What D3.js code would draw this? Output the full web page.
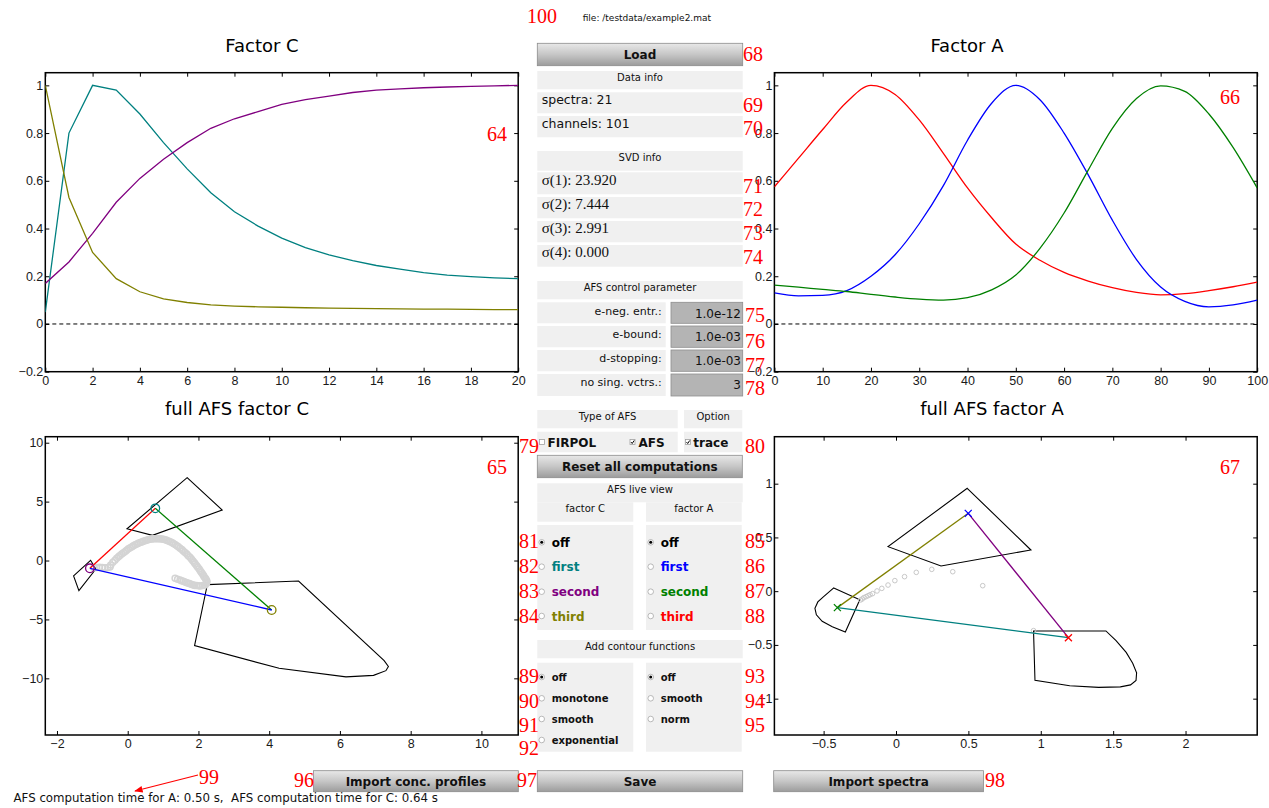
<!DOCTYPE html>
<html>
<head>
<meta charset="utf-8">
<script src="https://cdn.jsdelivr.net/npm/d3@7"></script>
<style>
  body { margin: 0; background: #fff; }
  svg { display: block; }
  .tick text { font-family: "Liberation Sans", Arial, sans-serif; font-size: 12.5px; fill: #1a1a1a; }
  .tick line { stroke: #000; }
  .title { font-family: "DejaVu Sans", sans-serif; font-size: 18px; fill: #000; }
  .ann { font-family: "Liberation Serif", serif; font-size: 20px; fill: #ff0000; }
  .hdr { font-family: "DejaVu Sans", sans-serif; font-size: 10px; fill: #111; text-anchor: middle; }
  .info { font-family: "DejaVu Sans", sans-serif; font-size: 12.5px; fill: #111; }
  .sig { font-family: "Liberation Serif", serif; font-size: 15px; fill: #111; }
  .ctl { font-family: "DejaVu Sans", sans-serif; font-size: 11px; fill: #111; text-anchor: end; }
  .val { font-family: "DejaVu Sans", sans-serif; font-size: 12px; fill: #111; text-anchor: end; }
  .btn { font-family: "DejaVu Sans", sans-serif; font-weight: bold; font-size: 12px; fill: #111; text-anchor: middle; }
  .opt { font-family: "DejaVu Sans", sans-serif; font-weight: bold; font-size: 12px; }
  .opt2 { font-family: "DejaVu Sans", sans-serif; font-weight: bold; font-size: 10px; fill: #111; }
  .small { font-family: "DejaVu Sans", sans-serif; font-size: 9px; fill: #111; }
  .status { font-family: "DejaVu Sans", sans-serif; font-size: 11.8px; fill: #111; }
</style>
</head>
<body>
<svg id="gui" width="1269" height="808"></svg>
<script>
// ---- Factor C (21 spectra) ----
const cSteps = [0,1,2,3,4,5,6,7,8,9,10,11,12,13,14,15,16,17,18,19,20];
const cTeal   = [0.05,0.80,1.0,0.98,0.88,0.76,0.65,0.55,0.47,0.41,0.36,0.32,0.29,0.265,0.245,0.23,0.215,0.205,0.198,0.193,0.19];
const cPurple = [0.17,0.26,0.38,0.51,0.61,0.69,0.76,0.82,0.86,0.89,0.92,0.94,0.955,0.97,0.98,0.985,0.99,0.993,0.996,0.998,1.0];
const cOlive  = [1.0,0.53,0.30,0.19,0.135,0.105,0.09,0.08,0.075,0.072,0.07,0.068,0.066,0.065,0.064,0.063,0.062,0.062,0.061,0.06,0.06];
const cXTicks = [0,2,4,6,8,10,12,14,16,18,20];
const cYTicks = [-0.2,0,0.2,0.4,0.6,0.8,1];

// ---- Factor A (101 channels, read every 5) ----
const aChannels = [0,5,10,15,20,25,30,35,40,45,50,55,60,65,70,75,80,85,90,95,100];
const aRed   = [0.575,0.695,0.815,0.93,1.0,0.962,0.855,0.715,0.57,0.445,0.335,0.267,0.216,0.18,0.152,0.132,0.122,0.127,0.14,0.156,0.175];
const aBlue  = [0.13,0.118,0.12,0.14,0.20,0.29,0.42,0.58,0.77,0.925,1.0,0.94,0.80,0.625,0.435,0.27,0.155,0.095,0.072,0.08,0.10];
const aGreen = [0.163,0.154,0.145,0.136,0.124,0.113,0.104,0.10,0.11,0.143,0.205,0.317,0.465,0.645,0.82,0.945,0.998,0.975,0.88,0.74,0.57];
const aXTicks = [0,10,20,30,40,50,60,70,80,90,100];
const aYTicks = [-0.2,0,0.2,0.4,0.6,0.8,1];

// ---- full AFS factor C ----
const afsCPolyTop   = [[1.68,7.03],[2.67,4.29],[0.70,2.14],[-0.02,2.70]];
const afsCPolyLeft  = [[-1.05,0.02],[-1.53,-1.3],[-1.38,-2.55],[-0.9,-0.72]];
const afsCPolyBig   = [[2.25,-2.05],[4.83,-1.74],[7.25,-8.5],[7.37,-9.0],[7.3,-9.35],[6.95,-9.75],[6.17,-9.88],[4.28,-9.15],[1.89,-7.22]];
const afsCTrace = [[-0.95,-0.62],[-0.88,-0.6],[-0.8,-0.58],[-0.72,-0.6],[-0.64,-0.62],[-0.56,-0.6],[-0.5,-0.55],[-0.48,-0.38],
  [-0.42,-0.15],[-0.36,0.02],[-0.31,0.19],[-0.26,0.31],[-0.22,0.43],[-0.17,0.55],[-0.12,0.66],[-0.07,0.77],[-0.03,0.88],[0.02,0.99],
  [0.07,1.09],[0.12,1.17],[0.16,1.25],[0.21,1.33],[0.26,1.40],[0.30,1.46],[0.35,1.52],[0.40,1.58],[0.44,1.63],[0.49,1.68],
  [0.53,1.72],[0.58,1.76],[0.63,1.80],[0.68,1.82],[0.72,1.84],[0.77,1.85],[0.82,1.85],[0.87,1.85],[0.91,1.84],[0.96,1.82],
  [1.01,1.80],[1.06,1.76],[1.10,1.71],[1.15,1.66],[1.20,1.60],[1.25,1.52],[1.29,1.44],[1.34,1.35],[1.39,1.26],[1.43,1.16],
  [1.48,1.05],[1.53,0.93],[1.57,0.81],[1.62,0.68],[1.67,0.55],[1.71,0.41],[1.76,0.27],[1.80,0.13],[1.84,-0.02],[1.88,-0.16],
  [1.91,-0.30],[1.95,-0.44],[1.98,-0.58],[2.02,-0.73],[2.05,-0.87],[2.08,-1.0],[2.11,-1.12],[2.14,-1.25],[2.16,-1.37],[2.19,-1.49],
  [2.21,-1.6],[2.23,-1.70],[2.24,-1.80],[2.23,-1.88],[2.22,-1.96],[2.19,-2.08],[2.12,-2.13],[2.05,-2.16],[2.0,-2.15],[1.95,-2.13],
  [1.90,-2.11],[1.86,-2.08],[1.81,-2.03],[1.76,-1.98],[1.72,-1.93],[1.67,-1.88],[1.62,-1.82],[1.57,-1.77],[1.52,-1.71],[1.48,-1.66],
  [1.41,-1.58],[1.34,-1.51]];
const afsCPoints = { purple: [-1.07,-0.66], teal: [0.78,4.43], olive: [4.07,-4.2] };
const afsCXTicks = [-2,0,2,4,6,8,10];
const afsCYTicks = [-10,-5,0,5,10];

// ---- full AFS factor A ----
const afsAPolyTop   = [[0.492,0.957],[0.932,0.383],[0.311,0.234],[-0.055,0.414]];
const afsAPolyLeft  = [[-0.43,0.03],[-0.25,-0.08],[-0.35,-0.38],[-0.44,-0.33],[-0.51,-0.28],[-0.55,-0.22],[-0.56,-0.16],[-0.54,-0.1],[-0.5,-0.05]];
const afsAPolyBig   = [[0.95,-0.37],[1.45,-0.37],[1.52,-0.46],[1.59,-0.57],[1.635,-0.67],[1.662,-0.76],[1.658,-0.83],[1.62,-0.872],
  [1.55,-0.89],[1.4,-0.895],[1.2,-0.88],[0.96,-0.83]];
const afsATrace = [[-0.245,-0.082],[-0.234,-0.073],[-0.222,-0.06],[-0.207,-0.051],[-0.193,-0.042],[-0.179,-0.033],[-0.162,-0.023],
  [-0.131,0.002],[-0.098,0.026],[-0.055,0.057],[-0.008,0.098],[0.059,0.135],[0.14,0.175],[0.247,0.203],[0.392,0.181],[0.599,0.051],[0.95,-0.367]];
const afsAPoints = { blue: [0.499,0.724], green: [-0.405,-0.153], red: [1.191,-0.433] };
const afsAXTicks = [-0.5,0,0.5,1,1.5,2];
const afsAYTicks = [-1,-0.5,0,0.5,1];

// ---- side panel texts ----
const infoRows = ["spectra: 21", "channels: 101"];
const svdRows = ["σ(1): 23.920", "σ(2): 7.444", "σ(3): 2.991", "σ(4): 0.000"];
const ctlLabels = ["e-neg. entr.:", "e-bound:", "d-stopping:", "no sing. vctrs.:"];
const ctlValues = ["1.0e-12", "1.0e-03", "1.0e-03", "3"];
const liveC = ["off", "first", "second", "third"];
const liveA = ["off", "first", "second", "third"];
const liveCColors = ["#000", "#008080", "#800080", "#808000"];
const liveAColors = ["#000", "#0000ff", "#008000", "#ff0000"];
const contourC = ["off", "monotone", "smooth", "exponential"];
const contourA = ["off", "smooth", "norm"];
const annotations = [
  ["100",527,23],["64",487,141],["66",1220,104],["65",487,474],["67",1220,474],
  ["68",743,61],["69",743,111.5],["70",743,135],["71",743,192.5],["72",743,216],["73",743,240],["74",743,264],
  ["75",745,321.5],["76",745,347.5],["77",745,371.5],["78",745,395],["79",519,453],["80",745,453],
  ["81",519,548],["82",519,572.5],["83",519,597.5],["84",519,622.5],
  ["85",745,548],["86",745,572.5],["87",745,597.5],["88",745,622.5],
  ["89",519,683],["90",519,708],["91",519,731.5],["92",519,755],
  ["93",745,683],["94",745,708],["95",745,731.5],
  ["96",294,787],["97",517,787],["98",985,787],["99",199,784]
];

const svg = d3.select("#gui");
svg.append("rect").attr("width", 1269).attr("height", 808).attr("fill", "#fff");
const fmt = d3.format("~g");

const defs = svg.append("defs");
const grad = defs.append("linearGradient").attr("id", "btn")
  .attr("x1", 0).attr("y1", 0).attr("x2", 0).attr("y2", 1);
grad.append("stop").attr("offset", "0%").attr("stop-color", "#e8e8e8");
grad.append("stop").attr("offset", "50%").attr("stop-color", "#c6c6c6");
grad.append("stop").attr("offset", "100%").attr("stop-color", "#9c9c9c");
const arrow = defs.append("marker").attr("id", "arr").attr("viewBox", "0 0 10 10")
  .attr("refX", 9).attr("refY", 5).attr("markerWidth", 7).attr("markerHeight", 7).attr("orient", "auto");
arrow.append("path").attr("d", "M0,1L10,5L0,9z").attr("fill", "#ff0000");

function frame(x, y, xTicks, yTicks, id) {
  const [x0, x1] = x.range(), [y0, y1] = y.range();
  const noDomain = g => g.select(".domain").remove();
  svg.append("g").attr("transform", `translate(0,${y0})`)
    .call(d3.axisBottom(x).tickValues(xTicks).tickSize(-4).tickPadding(4).tickFormat(fmt)).call(noDomain);
  svg.append("g").attr("transform", `translate(0,${y1})`)
    .call(d3.axisTop(x).tickValues(xTicks).tickSize(-4).tickFormat("")).call(noDomain);
  svg.append("g").attr("transform", `translate(${x0},0)`)
    .call(d3.axisLeft(y).tickValues(yTicks).tickSize(-4).tickPadding(2).tickFormat(fmt)).call(noDomain);
  svg.append("g").attr("transform", `translate(${x1},0)`)
    .call(d3.axisRight(y).tickValues(yTicks).tickSize(-4).tickFormat("")).call(noDomain);
  svg.append("rect").attr("x", x0).attr("y", y1).attr("width", x1 - x0).attr("height", y0 - y1)
    .attr("fill", "none").attr("stroke", "#000").attr("stroke-width", 1.5);
  defs.append("clipPath").attr("id", id).append("rect")
    .attr("x", x0).attr("y", y1).attr("width", x1 - x0).attr("height", y0 - y1);
  return svg.append("g").attr("clip-path", `url(#${id})`);
}

// ---- Factor C ----
{
  const x = d3.scaleLinear().domain([0, 20]).range([45.3, 518.2]);
  const y = d3.scaleLinear().domain([-0.2, 1.053]).range([371.7, 72.7]);
  const g = frame(x, y, cXTicks, cYTicks, "clipC");
  g.append("line").attr("x1", x(0)).attr("x2", x(20)).attr("y1", y(0)).attr("y2", y(0))
    .attr("stroke", "#000").attr("stroke-dasharray", "4,3");
  const line = d3.line().x((d, i) => x(cSteps[i])).y(d => y(d));
  [[cTeal, "#008080"], [cPurple, "#800080"], [cOlive, "#808000"]].forEach(([s, c]) => {
    g.append("path").attr("d", line(s)).attr("fill", "none").attr("stroke", c).attr("stroke-width", 1.3);
  });
  svg.append("text").attr("class", "title").attr("x", 262).attr("y", 52).attr("text-anchor", "middle").text("Factor C");
}

// ---- Factor A ----
{
  const x = d3.scaleLinear().domain([0, 100]).range([774.4, 1257.2]);
  const y = d3.scaleLinear().domain([-0.2, 1.053]).range([371.7, 72.7]);
  const g = frame(x, y, aXTicks, aYTicks, "clipA");
  g.append("line").attr("x1", x(0)).attr("x2", x(100)).attr("y1", y(0)).attr("y2", y(0))
    .attr("stroke", "#000").attr("stroke-dasharray", "4,3");
  const line = d3.line().x((d, i) => x(aChannels[i])).y(d => y(d)).curve(d3.curveMonotoneX);
  [[aRed, "#ff0000"], [aBlue, "#0000ff"], [aGreen, "#008000"]].forEach(([s, c]) => {
    g.append("path").attr("d", line(s)).attr("fill", "none").attr("stroke", c).attr("stroke-width", 1.3);
  });
  svg.append("text").attr("class", "title").attr("x", 967).attr("y", 52).attr("text-anchor", "middle").text("Factor A");
}

// ---- full AFS factor C ----
{
  const x = d3.scaleLinear().domain([-2.33, 11.04]).range([45.3, 518.2]);
  const y = d3.scaleLinear().domain([-14.81, 10.51]).range([735, 436.7]);
  const g = frame(x, y, afsCXTicks, afsCYTicks, "clipAfsC");
  const poly = d3.line().x(d => x(d[0])).y(d => y(d[1]));
  [afsCPolyTop, afsCPolyLeft, afsCPolyBig].forEach(p => {
    g.append("path").attr("d", poly(p) + "Z").attr("fill", "none").attr("stroke", "#000").attr("stroke-width", 1.1);
  });
  g.selectAll(".tr").data(afsCTrace).join("circle")
    .attr("cx", d => x(d[0])).attr("cy", d => y(d[1])).attr("r", 3)
    .attr("fill", "none").attr("stroke", "#d4d4d4").attr("stroke-width", 1.5);
  const P = afsCPoints;
  [[P.purple, P.teal, "#ff0000"], [P.teal, P.olive, "#008000"], [P.purple, P.olive, "#0000ff"]].forEach(([a, b, c]) => {
    g.append("line").attr("x1", x(a[0])).attr("y1", y(a[1])).attr("x2", x(b[0])).attr("y2", y(b[1]))
      .attr("stroke", c).attr("stroke-width", 1.3);
  });
  [[P.purple, "#800080"], [P.teal, "#008080"], [P.olive, "#808000"]].forEach(([p, c]) => {
    g.append("circle").attr("cx", x(p[0])).attr("cy", y(p[1])).attr("r", 4.3)
      .attr("fill", "none").attr("stroke", c).attr("stroke-width", 1.3);
  });
  svg.append("text").attr("class", "title").attr("x", 237).attr("y", 415).attr("text-anchor", "middle").text("full AFS factor C");
}

// ---- full AFS factor A ----
{
  const x = d3.scaleLinear().domain([-0.84, 2.495]).range([774.4, 1257.2]);
  const y = d3.scaleLinear().domain([-1.338, 1.437]).range([735, 436.7]);
  const g = frame(x, y, afsAXTicks, afsAYTicks, "clipAfsA");
  const poly = d3.line().x(d => x(d[0])).y(d => y(d[1]));
  [afsAPolyTop, afsAPolyLeft, afsAPolyBig].forEach(p => {
    g.append("path").attr("d", poly(p) + "Z").attr("fill", "none").attr("stroke", "#000").attr("stroke-width", 1.1);
  });
  g.selectAll(".tr").data(afsATrace).join("circle")
    .attr("cx", d => x(d[0])).attr("cy", d => y(d[1])).attr("r", 2.3)
    .attr("fill", "none").attr("stroke", "#c8c8c8").attr("stroke-width", 1);
  const P = afsAPoints;
  [[P.green, P.blue, "#808000"], [P.blue, P.red, "#800080"], [P.green, P.red, "#008080"]].forEach(([a, b, c]) => {
    g.append("line").attr("x1", x(a[0])).attr("y1", y(a[1])).attr("x2", x(b[0])).attr("y2", y(b[1]))
      .attr("stroke", c).attr("stroke-width", 1.3);
  });
  [[P.blue, "#0000ff"], [P.green, "#008000"], [P.red, "#ff0000"]].forEach(([p, c]) => {
    g.append("path").attr("transform", `translate(${x(p[0])},${y(p[1])})`)
      .attr("d", "M-3.5,-3.5L3.5,3.5M-3.5,3.5L3.5,-3.5").attr("stroke", c).attr("stroke-width", 1.3);
  });
  svg.append("text").attr("class", "title").attr("x", 992).attr("y", 415).attr("text-anchor", "middle").text("full AFS factor A");
}

// ---- middle control panel ----
function box(x0, y0, x1, y1, fill) {
  return svg.append("rect").attr("x", x0).attr("y", y0).attr("width", x1 - x0).attr("height", y1 - y0)
    .attr("fill", fill || "#f0f0f0");
}
function text(cls, str, x, y, color) {
  const t = svg.append("text").attr("class", cls).attr("x", x).attr("y", y).text(str);
  if (color) t.attr("fill", color);
  return t;
}
function button(x0, y0, x1, y1, label) {
  svg.append("rect").attr("x", x0).attr("y", y0).attr("width", x1 - x0).attr("height", y1 - y0)
    .attr("fill", "url(#btn)").attr("stroke", "#8c8c8c").attr("stroke-width", 0.8);
  text("btn", label, (x0 + x1) / 2, (y0 + y1) / 2 + 4.3);
}
function radio(cx, cy, on) {
  svg.append("circle").attr("cx", cx).attr("cy", cy).attr("r", 2.8)
    .attr("fill", "#fff").attr("stroke", "#a8a8a8").attr("stroke-width", 0.8);
  if (on) svg.append("circle").attr("cx", cx).attr("cy", cy).attr("r", 1.5).attr("fill", "#000");
}
function check(x, y, on) {
  svg.append("rect").attr("x", x).attr("y", y).attr("width", 5).attr("height", 5)
    .attr("fill", "#fff").attr("stroke", "#a0a0a0").attr("stroke-width", 0.8);
  if (on) svg.append("path").attr("d", `M${x + 1},${y + 2.6}L${x + 2.2},${y + 4}L${x + 4.2},${y + 1}`)
    .attr("fill", "none").attr("stroke", "#000").attr("stroke-width", 1);
}

text("small", "file: /testdata/example2.mat", 582.7, 20.5);
button(537.3, 43.3, 742.7, 65.7, "Load");

box(537.3, 71, 742.7, 89.3); text("hdr", "Data info", 640, 80.5);
[[92.3, 113.3, 103.5], [116, 137.3, 127.5]].forEach(([a, b, t], i) => {
  box(537.3, a, 742.7, b); text("info", infoRows[i], 541.7, t);
});
box(537.3, 151, 742.7, 170.7); text("hdr", "SVD info", 640, 160.5);
[[172.3, 194.3, 184.5], [197, 218.3, 209], [221, 242.3, 233], [245, 266.7, 257]].forEach(([a, b, t], i) => {
  box(537.3, a, 742.7, b); text("sig", svdRows[i], 541.7, t);
});

box(537.3, 281, 742.7, 299.3); text("hdr", "AFS control parameter", 640, 290.5);
[[302.3, 323.3], [326, 347.3], [350, 371.3], [374, 396]].forEach(([a, b], i) => {
  box(537.3, a, 665.7, b);
  text("ctl", ctlLabels[i], 661.7, a + 12.3);
  svg.append("rect").attr("x", 671).attr("y", a).attr("width", 71.7).attr("height", b - a)
    .attr("fill", "#b4b4b4").attr("stroke", "#8e8e8e").attr("stroke-width", 0.8);
  text("val", ctlValues[i], 741, a + 15.2);
});

box(537.3, 410, 677.7, 428.3); text("hdr", "Type of AFS", 607.5, 419.5);
box(684, 410, 742.3, 428.3); text("hdr", "Option", 713.2, 419.5);
box(537.3, 431.7, 677.7, 452.3); box(684, 431.7, 742.3, 452.3);
check(539.5, 439.5, false); text("opt", "FIRPOL", 547.5, 447, "#111");
check(630, 439.5, true); text("opt", "AFS", 638.5, 447, "#111");
check(685.5, 439.5, true); text("opt", "trace", 693.3, 447, "#111");
button(537.3, 455.3, 742.3, 477.7, "Reset all computations");

box(537.3, 483.3, 742.7, 502.3); text("hdr", "AFS live view", 640, 493);
box(537.3, 502.3, 633.3, 521.7); text("hdr", "factor C", 585.3, 512);
box(646, 502.3, 741.7, 521.7); text("hdr", "factor A", 693.8, 512);
box(537.3, 525, 633.3, 630); box(646, 525, 741.7, 630);
[542.3, 566.7, 591.7, 616].forEach((cy, i) => {
  radio(541.7, cy, i === 0); text("opt", liveC[i], 551.7, cy + 4.5, liveCColors[i]);
  radio(650.7, cy, i === 0); text("opt", liveA[i], 660.7, cy + 4.5, liveAColors[i]);
});

box(537.3, 640, 742.7, 658.3); text("hdr", "Add contour functions", 640, 649.5);
box(537.3, 662.7, 633.3, 751.7); box(646, 662.7, 741.7, 751.7);
[677, 698.3, 719, 740].forEach((cy, i) => {
  radio(541.7, cy, i === 0); text("opt2", contourC[i], 551.7, cy + 3.8);
  if (i < contourA.length) { radio(650.7, cy, i === 0); text("opt2", contourA[i], 660.7, cy + 3.8); }
});

button(313.4, 770.7, 518.3, 791.7, "Import conc. profiles");
button(537.3, 770.7, 742.7, 791.7, "Save");
button(773.7, 770.7, 983.5, 791.7, "Import spectra");

text("status", "AFS computation time for A: 0.50 s,  AFS computation time for C: 0.64 s", 13.5, 802)
  .style("white-space", "pre").attr("xml:space", "preserve");

// ---- red annotation numbers ----
svg.append("line").attr("x1", 198).attr("y1", 775).attr("x2", 135).attr("y2", 791)
  .attr("stroke", "#ff0000").attr("stroke-width", 1.2).attr("marker-end", "url(#arr)");
annotations.forEach(([t, x, y]) => text("ann", t, x, y));
</script>
</body>
</html>
